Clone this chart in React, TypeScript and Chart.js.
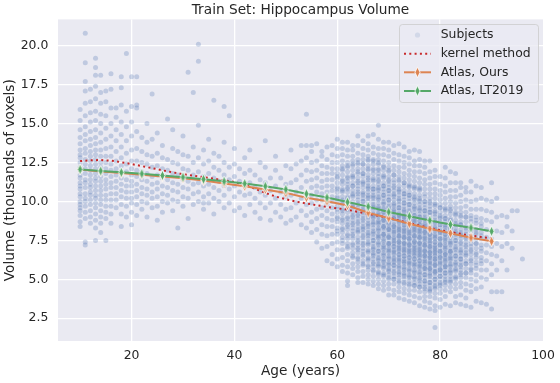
import React, { useEffect, useRef } from "react";
import { Chart, registerables } from "chart.js";
Chart.register(...registerables);

const chartTitle = "Train Set: Hippocampus Volume";
const xLabel = "Age (years)";
const yLabel = "Volume (thousands of voxels)";
const xTicks = [20, 40, 60, 80, 100];
const yTicks = [2.5, 5, 7.5, 10, 12.5, 15, 17.5, 20];
const legendLabels = ["Subjects", "kernel method", "Atlas, Ours", "Atlas, LT2019"];

const atlasAges = [10, 14, 18, 22, 26, 30, 34, 38, 42, 46, 50, 54, 58, 62, 66, 70, 74, 78, 82, 86, 90];
const atlasOurs = [12.05, 11.93, 11.82, 11.72, 11.6, 11.49, 11.34, 11.16, 10.98, 10.77, 10.55, 10.24, 10.02, 9.74, 9.28, 8.93, 8.57, 8.25, 7.96, 7.67, 7.44];
const atlasLT2019 = [12.06, 11.96, 11.87, 11.78, 11.67, 11.56, 11.43, 11.29, 11.15, 10.98, 10.77, 10.49, 10.25, 9.96, 9.67, 9.32, 9.05, 8.78, 8.52, 8.31, 8.08];

const kernelAges = [10, 12, 14, 16, 18, 20, 22, 24, 26, 28, 30, 32, 34, 36, 38, 40, 42, 44, 46, 48, 50, 52, 54, 56, 58, 60, 62, 64, 66, 68, 70, 72, 74, 76, 78, 80, 82, 84, 86, 88, 90];
const kernelValues = [12.59, 12.64, 12.66, 12.62, 12.52, 12.4, 12.27, 12.14, 12.0, 11.87, 11.75, 11.65, 11.56, 11.46, 11.36, 11.25, 11.08, 10.82, 10.55, 10.32, 10.14, 9.99, 9.87, 9.76, 9.65, 9.56, 9.47, 9.33, 9.2, 9.08, 8.95, 8.78, 8.61, 8.45, 8.29, 8.16, 8.04, 7.92, 7.81, 7.72, 7.64];

// Subjects: [age, volumes at that age]
const subjectColumns: [number, number[]][] = [
  [10, [8.4, 8.7, 9.1, 9.4, 9.6, 9.8, 10.0, 10.3, 10.5, 10.8, 11.0, 11.2, 11.5, 11.7, 12.0, 12.2, 12.5, 12.8, 13.0, 13.3, 13.7, 14.1, 14.6, 15.2, 15.9]],
  [11, [7.2, 7.4, 8.9, 9.3, 9.7, 10.0, 10.2, 10.5, 10.9, 11.2, 11.4, 11.8, 12.1, 12.4, 12.7, 13.1, 13.4, 13.9, 14.3, 14.8, 15.5, 16.3, 17.1, 17.7, 18.9, 20.8]],
  [12, [8.6, 9.0, 9.4, 9.8, 10.1, 10.4, 10.6, 10.9, 11.1, 11.4, 11.7, 12.0, 12.3, 12.6, 12.9, 13.2, 13.6, 14.0, 14.5, 15.1, 15.7, 16.4, 17.2]],
  [13, [7.5, 8.3, 8.8, 9.2, 9.6, 9.9, 10.2, 10.4, 10.7, 11.0, 11.3, 11.5, 11.8, 12.1, 12.4, 12.7, 13.0, 13.3, 13.7, 14.1, 14.6, 15.2, 15.8, 16.6, 17.4, 18.1, 18.6, 19.2]],
  [14, [8.0, 8.6, 9.0, 9.4, 9.8, 10.1, 10.4, 10.7, 11.0, 11.3, 11.6, 11.9, 12.2, 12.5, 12.9, 13.3, 13.8, 14.4, 15.0, 15.6, 16.3, 17.0, 18.1]],
  [15, [7.5, 8.9, 9.3, 9.7, 10.1, 10.4, 10.8, 11.1, 11.4, 11.8, 12.1, 12.5, 12.9, 13.4, 14.0, 14.7, 15.5, 16.4, 17.1]],
  [16, [8.6, 9.2, 9.7, 10.1, 10.5, 10.9, 11.2, 11.6, 12.0, 12.4, 12.9, 13.5, 14.2, 15.0, 16.0, 17.2, 18.2]],
  [17, [9.6, 10.1, 10.5, 10.9, 11.3, 11.7, 12.1, 12.6, 13.2, 13.9, 14.6, 15.4, 16.0]],
  [18, [8.4, 9.2, 9.8, 10.3, 10.7, 11.1, 11.5, 11.9, 12.3, 12.8, 13.5, 14.3, 15.1, 16.2, 17.3, 18.0]],
  [19, [9.0, 9.7, 10.2, 10.6, 11.0, 11.4, 11.9, 12.4, 13.1, 13.9, 14.8, 15.8, 19.5]],
  [20, [8.5, 9.3, 9.9, 10.2, 10.6, 11.0, 11.3, 11.7, 12.1, 12.6, 13.3, 14.2, 15.1, 16.1, 18.0]],
  [21, [9.1, 9.8, 10.3, 10.7, 11.1, 11.6, 12.0, 12.6, 13.4, 14.5, 16.0, 16.2, 18.0]],
  [22, [9.5, 10.0, 10.5, 10.9, 11.4, 11.9, 12.5, 13.2, 14.1]],
  [23, [9.0, 9.9, 10.4, 10.8, 11.3, 11.8, 12.4, 13.0, 13.8, 15.0]],
  [24, [9.6, 10.2, 10.6, 11.1, 11.6, 12.2, 12.9, 14.0, 16.9]],
  [25, [8.8, 9.7, 10.3, 10.8, 11.2, 11.7, 12.3, 13.1, 14.4]],
  [26, [9.3, 10.0, 10.5, 11.0, 11.5, 12.1, 12.8, 13.6]],
  [27, [9.9, 10.4, 10.9, 11.4, 12.0, 12.7, 15.3]],
  [28, [9.4, 10.1, 10.7, 11.2, 11.8, 12.5, 13.4, 14.6]],
  [29, [8.3, 10.0, 10.6, 11.1, 11.7, 12.4, 13.2]],
  [30, [9.7, 10.3, 10.9, 11.4, 12.1, 13.0, 14.2]],
  [31, [8.9, 10.2, 10.8, 11.3, 12.0, 12.9, 18.3]],
  [32, [9.8, 10.5, 11.1, 11.7, 12.5, 13.5, 17.0]],
  [33, [10.0, 10.6, 11.2, 11.9, 12.8, 14.9, 19.0, 20.1]],
  [34, [9.5, 9.9, 10.3, 11.0, 11.6, 12.4, 13.3]],
  [35, [9.9, 10.5, 11.1, 11.8, 12.6, 14.0]],
  [36, [9.2, 10.2, 10.9, 11.5, 12.2, 13.1, 16.5]],
  [37, [10.0, 10.7, 11.3, 12.0, 12.9]],
  [38, [9.6, 10.4, 11.0, 11.7, 12.5, 13.8, 16.1]],
  [39, [9.9, 10.8, 11.4, 12.2, 15.5]],
  [40, [9.4, 10.3, 11.0, 11.6, 12.4, 13.4]],
  [41, [9.6, 10.6, 11.3, 12.1]],
  [42, [9.1, 10.4, 11.0, 11.8, 12.8]],
  [43, [9.8, 10.5, 11.2, 12.0, 13.3]],
  [44, [9.3, 10.2, 10.9, 11.7]],
  [45, [8.9, 9.9, 10.6, 11.4, 12.5]],
  [46, [9.6, 10.4, 11.2, 12.2, 13.9]],
  [47, [8.8, 9.9, 10.7, 11.5]],
  [48, [9.3, 10.2, 11.0, 12.0, 12.9]],
  [49, [9.0, 9.8, 10.6, 11.5]],
  [50, [8.6, 9.5, 10.3, 11.1, 12.3]],
  [51, [8.8, 9.6, 10.4, 11.2, 12.1, 13.3]],
  [52, [9.0, 9.9, 10.6, 11.4, 12.4]],
  [53, [8.5, 9.4, 10.2, 10.9, 11.7, 12.6, 13.6]],
  [54, [8.3, 9.1, 9.8, 10.5, 11.3, 12.0, 12.8, 13.6, 15.6]],
  [55, [8.0, 8.7, 9.3, 9.9, 10.4, 10.9, 11.4, 11.9, 12.5, 13.2, 13.6]],
  [56, [7.4, 8.2, 8.9, 9.5, 10.1, 10.6, 11.0, 11.5, 12.0, 12.6, 13.7]],
  [57, [7.0, 7.9, 8.5, 9.1, 9.6, 10.1, 10.5, 10.9, 11.3, 11.8, 12.3, 12.9, 13.2]],
  [58, [6.2, 7.1, 7.8, 8.4, 8.9, 9.4, 9.8, 10.2, 10.6, 11.0, 11.4, 11.8, 12.2, 12.7, 13.5]],
  [59, [6.0, 6.6, 7.3, 7.9, 8.4, 8.8, 9.2, 9.6, 10.0, 10.3, 10.7, 11.0, 11.4, 11.8, 12.1, 12.5, 13.0, 13.6]],
  [60, [5.8, 6.3, 6.9, 7.4, 7.9, 8.3, 8.7, 9.0, 9.3, 9.7, 10.0, 10.3, 10.6, 10.9, 11.2, 11.5, 11.8, 12.1, 12.5, 12.9, 13.4, 14.0]],
  [61, [5.5, 5.9, 6.4, 6.9, 7.3, 7.7, 8.0, 8.3, 8.6, 8.9, 9.2, 9.5, 9.8, 10.0, 10.3, 10.6, 10.8, 11.1, 11.4, 11.7, 12.0, 12.3, 12.6, 13.0, 13.4, 13.8]],
  [62, [4.6, 4.9, 5.4, 5.8, 6.2, 6.6, 7.0, 7.3, 7.6, 7.9, 8.2, 8.5, 8.7, 9.0, 9.3, 9.5, 9.8, 10.1, 10.3, 10.6, 10.8, 11.1, 11.3, 11.6, 11.9, 12.2, 12.5, 12.9, 13.3, 13.8]],
  [63, [5.3, 5.7, 6.0, 6.4, 6.7, 7.0, 7.3, 7.6, 7.8, 8.1, 8.3, 8.6, 8.8, 9.1, 9.3, 9.6, 9.8, 10.0, 10.3, 10.5, 10.7, 11.0, 11.2, 11.5, 11.7, 12.0, 12.3, 12.6, 12.9, 13.3, 13.6]],
  [64, [4.8, 5.1, 5.5, 5.8, 6.1, 6.4, 6.7, 7.0, 7.2, 7.5, 7.7, 8.0, 8.2, 8.4, 8.7, 8.9, 9.1, 9.4, 9.6, 9.8, 10.1, 10.3, 10.5, 10.8, 11.0, 11.3, 11.5, 11.8, 12.1, 12.4, 12.7, 13.1, 13.6, 14.2]],
  [65, [4.8, 5.2, 5.5, 5.9, 6.2, 6.5, 6.8, 7.0, 7.3, 7.5, 7.8, 8.0, 8.2, 8.4, 8.6, 8.9, 9.1, 9.3, 9.5, 9.7, 10.0, 10.2, 10.4, 10.6, 10.9, 11.1, 11.3, 11.6, 11.8, 12.1, 12.4, 12.7, 13.0, 13.4, 13.9]],
  [66, [4.7, 5.0, 5.3, 5.6, 5.9, 6.2, 6.4, 6.7, 6.9, 7.2, 7.4, 7.6, 7.8, 8.0, 8.2, 8.4, 8.6, 8.8, 9.0, 9.2, 9.4, 9.6, 9.8, 10.0, 10.2, 10.4, 10.6, 10.8, 11.0, 11.2, 11.5, 11.7, 12.0, 12.3, 12.6, 12.9, 13.3, 13.7, 14.2]],
  [67, [4.6, 4.9, 5.2, 5.5, 5.8, 6.0, 6.3, 6.5, 6.7, 6.9, 7.1, 7.3, 7.5, 7.7, 7.9, 8.1, 8.3, 8.5, 8.7, 8.9, 9.0, 9.2, 9.4, 9.6, 9.8, 10.0, 10.2, 10.4, 10.6, 10.8, 11.0, 11.3, 11.5, 11.8, 12.1, 12.4, 12.7, 13.1, 13.5, 14.3]],
  [68, [4.4, 4.7, 5.0, 5.3, 5.5, 5.8, 6.0, 6.2, 6.4, 6.6, 6.8, 7.0, 7.2, 7.4, 7.6, 7.8, 7.9, 8.1, 8.3, 8.5, 8.6, 8.8, 9.0, 9.2, 9.3, 9.5, 9.7, 9.9, 10.1, 10.3, 10.5, 10.7, 10.9, 11.1, 11.3, 11.6, 11.8, 12.1, 12.4, 12.7, 13.0, 13.4, 14.0, 14.9]],
  [69, [4.3, 4.6, 4.9, 5.2, 5.4, 5.7, 5.9, 6.1, 6.3, 6.5, 6.7, 6.9, 7.1, 7.2, 7.4, 7.6, 7.8, 7.9, 8.1, 8.3, 8.4, 8.6, 8.8, 8.9, 9.1, 9.3, 9.5, 9.6, 9.8, 10.0, 10.2, 10.4, 10.6, 10.8, 11.0, 11.2, 11.5, 11.7, 12.0, 12.3, 12.6, 13.0, 13.4, 13.8]],
  [70, [4.0, 4.4, 4.7, 5.0, 5.3, 5.5, 5.7, 5.9, 6.1, 6.3, 6.5, 6.7, 6.8, 7.0, 7.2, 7.3, 7.5, 7.7, 7.8, 8.0, 8.2, 8.3, 8.5, 8.7, 8.8, 9.0, 9.2, 9.3, 9.5, 9.7, 9.9, 10.1, 10.3, 10.5, 10.7, 10.9, 11.1, 11.4, 11.6, 11.9, 12.2, 12.5, 12.9, 13.3, 13.8]],
  [71, [4.0, 4.3, 4.7, 5.0, 5.2, 5.4, 5.7, 5.9, 6.1, 6.2, 6.4, 6.6, 6.8, 6.9, 7.1, 7.3, 7.4, 7.6, 7.7, 7.9, 8.1, 8.2, 8.4, 8.5, 8.7, 8.9, 9.0, 9.2, 9.4, 9.5, 9.7, 9.9, 10.1, 10.3, 10.5, 10.7, 10.9, 11.2, 11.4, 11.7, 12.0, 12.3, 12.7, 13.1, 13.6]],
  [72, [3.8, 4.2, 4.5, 4.8, 5.1, 5.3, 5.5, 5.7, 5.9, 6.1, 6.3, 6.4, 6.6, 6.8, 6.9, 7.1, 7.2, 7.4, 7.5, 7.7, 7.8, 8.0, 8.1, 8.3, 8.4, 8.6, 8.8, 8.9, 9.1, 9.2, 9.4, 9.6, 9.8, 10.0, 10.2, 10.4, 10.6, 10.8, 11.0, 11.3, 11.6, 11.9, 12.2, 12.6, 13.0, 13.7]],
  [73, [3.7, 4.1, 4.4, 4.7, 5.0, 5.2, 5.4, 5.6, 5.8, 6.0, 6.2, 6.3, 6.5, 6.7, 6.8, 7.0, 7.1, 7.3, 7.4, 7.6, 7.7, 7.9, 8.0, 8.2, 8.3, 8.5, 8.7, 8.8, 9.0, 9.1, 9.3, 9.5, 9.7, 9.9, 10.1, 10.3, 10.5, 10.7, 11.0, 11.2, 11.5, 11.8, 12.2, 12.5, 12.9, 13.5]],
  [74, [3.6, 4.0, 4.3, 4.6, 4.9, 5.1, 5.3, 5.5, 5.7, 5.9, 6.1, 6.2, 6.4, 6.6, 6.7, 6.9, 7.0, 7.2, 7.3, 7.5, 7.6, 7.8, 7.9, 8.1, 8.2, 8.4, 8.5, 8.7, 8.9, 9.0, 9.2, 9.4, 9.6, 9.8, 10.0, 10.2, 10.4, 10.6, 10.9, 11.1, 11.4, 11.7, 12.0, 12.4, 12.8, 13.2]],
  [75, [3.5, 3.9, 4.3, 4.6, 4.8, 5.0, 5.2, 5.4, 5.6, 5.8, 6.0, 6.1, 6.3, 6.5, 6.6, 6.8, 6.9, 7.1, 7.2, 7.4, 7.5, 7.7, 7.8, 8.0, 8.1, 8.3, 8.4, 8.6, 8.8, 8.9, 9.1, 9.3, 9.5, 9.7, 9.9, 10.1, 10.3, 10.5, 10.8, 11.0, 11.3, 11.6, 11.9, 12.3, 12.6, 13.3]],
  [76, [3.3, 3.8, 4.2, 4.5, 4.7, 4.9, 5.1, 5.3, 5.5, 5.7, 5.9, 6.0, 6.2, 6.4, 6.5, 6.7, 6.8, 7.0, 7.1, 7.3, 7.4, 7.6, 7.7, 7.9, 8.0, 8.2, 8.3, 8.5, 8.7, 8.8, 9.0, 9.2, 9.4, 9.6, 9.8, 10.0, 10.2, 10.4, 10.7, 10.9, 11.2, 11.5, 11.9, 12.3, 12.7, 13.2]],
  [77, [3.2, 3.6, 3.9, 4.2, 4.5, 4.7, 4.9, 5.1, 5.3, 5.5, 5.7, 5.8, 6.0, 6.2, 6.3, 6.5, 6.6, 6.8, 6.9, 7.1, 7.2, 7.4, 7.5, 7.7, 7.8, 8.0, 8.1, 8.3, 8.5, 8.6, 8.8, 9.0, 9.2, 9.4, 9.6, 9.8, 10.0, 10.3, 10.5, 10.8, 11.1, 11.4, 11.8, 12.2, 12.6]],
  [78, [3.1, 3.5, 3.9, 4.2, 4.4, 4.6, 4.8, 5.0, 5.2, 5.4, 5.6, 5.7, 5.9, 6.1, 6.2, 6.4, 6.5, 6.7, 6.8, 7.0, 7.1, 7.3, 7.4, 7.6, 7.7, 7.9, 8.0, 8.2, 8.4, 8.5, 8.7, 8.9, 9.1, 9.3, 9.5, 9.7, 10.0, 10.2, 10.5, 10.8, 11.1, 11.5, 11.9, 12.6]],
  [79, [1.9, 3.0, 3.3, 3.8, 4.1, 4.4, 4.6, 4.8, 5.0, 5.2, 5.4, 5.5, 5.7, 5.9, 6.0, 6.2, 6.3, 6.5, 6.6, 6.8, 6.9, 7.1, 7.2, 7.4, 7.6, 7.7, 7.9, 8.1, 8.2, 8.4, 8.6, 8.8, 9.0, 9.2, 9.4, 9.7, 9.9, 10.2, 10.5, 10.8, 11.2, 11.6, 12.0]],
  [80, [3.2, 3.7, 4.1, 4.4, 4.6, 4.8, 5.0, 5.2, 5.4, 5.6, 5.7, 5.9, 6.1, 6.2, 6.4, 6.5, 6.7, 6.8, 7.0, 7.2, 7.3, 7.5, 7.6, 7.8, 8.0, 8.1, 8.3, 8.5, 8.7, 8.9, 9.1, 9.3, 9.6, 9.8, 10.1, 10.4, 10.7, 11.1, 11.6]],
  [81, [3.4, 3.9, 4.3, 4.6, 4.8, 5.0, 5.2, 5.4, 5.6, 5.8, 5.9, 6.1, 6.3, 6.4, 6.6, 6.7, 6.9, 7.1, 7.2, 7.4, 7.6, 7.7, 7.9, 8.1, 8.3, 8.5, 8.7, 8.9, 9.1, 9.4, 9.6, 9.9, 10.2, 10.6, 11.0, 11.5, 12.2]],
  [82, [3.3, 4.2, 4.5, 4.8, 5.0, 5.2, 5.4, 5.6, 5.8, 6.0, 6.2, 6.3, 6.5, 6.7, 6.8, 7.0, 7.2, 7.4, 7.5, 7.7, 7.9, 8.1, 8.3, 8.5, 8.7, 8.9, 9.2, 9.4, 9.7, 10.0, 10.3, 10.7, 11.2, 11.9]],
  [83, [3.5, 3.9, 4.4, 4.7, 5.0, 5.2, 5.5, 5.7, 5.9, 6.1, 6.3, 6.5, 6.7, 6.9, 7.1, 7.3, 7.5, 7.7, 7.9, 8.1, 8.3, 8.6, 8.8, 9.1, 9.3, 9.6, 9.9, 10.3, 10.7, 11.2, 11.8]],
  [84, [3.4, 4.0, 4.5, 4.8, 5.1, 5.4, 5.6, 5.9, 6.1, 6.3, 6.5, 6.7, 6.9, 7.1, 7.3, 7.6, 7.8, 8.0, 8.2, 8.5, 8.7, 9.0, 9.3, 9.6, 10.0, 10.4, 10.9, 11.2]],
  [85, [3.3, 3.8, 4.3, 4.7, 5.1, 5.4, 5.7, 6.0, 6.2, 6.5, 6.7, 6.9, 7.2, 7.4, 7.6, 7.9, 8.1, 8.4, 8.7, 9.0, 9.3, 9.7, 10.1, 10.6, 10.9]],
  [86, [3.2, 4.2, 4.6, 5.0, 5.4, 5.7, 6.0, 6.3, 6.6, 6.8, 7.1, 7.3, 7.6, 7.8, 8.1, 8.4, 8.7, 9.1, 9.5, 10.0, 10.6, 11.3]],
  [87, [3.6, 4.4, 4.9, 5.3, 5.7, 6.1, 6.4, 6.7, 7.0, 7.3, 7.6, 7.9, 8.2, 8.6, 9.0, 9.5, 10.1, 11.0]],
  [88, [3.5, 4.5, 5.1, 5.6, 6.0, 6.4, 6.8, 7.2, 7.6, 8.0, 8.4, 8.9, 9.5, 10.2, 10.9]],
  [89, [3.4, 5.0, 5.6, 6.2, 6.7, 7.2, 7.7, 8.2, 8.8, 9.4, 10.1]],
  [90, [3.1, 4.2, 5.3, 6.0, 6.6, 7.1, 7.6, 8.1, 8.7, 9.3, 10.0, 11.2]],
  [91, [4.2, 5.6, 6.5, 7.3, 8.1, 9.0, 10.2]],
  [92, [4.2, 6.2, 7.1, 8.0, 9.1]],
  [93, [5.6, 7.3, 8.4, 9.0]],
  [94, [7.0, 8.1, 9.4]],
  [95, [9.4]],
  [96, [6.3]],
];

// Additional subjects in the dense core of the older cohort: [age, volumes]
const subjectColumnsDense: [number, number[]][] = [
  [60, [8.1, 8.9, 9.5, 10.2, 10.8, 11.6]],
  [61, [7.5, 8.2, 8.8, 9.4, 10.1, 10.7, 11.3, 12.1]],
  [62, [7.1, 7.8, 8.4, 8.9, 9.6, 10.2, 10.9, 11.5, 12.3]],
  [63, [6.5, 7.2, 7.9, 8.5, 9.0, 9.7, 10.4, 11.0, 11.6, 12.4]],
  [64, [6.3, 6.9, 7.4, 8.1, 8.6, 9.2, 9.9, 10.6, 11.2, 11.9, 12.5]],
  [65, [6.0, 6.6, 7.2, 7.7, 8.3, 8.8, 9.4, 10.0, 10.5, 11.2, 11.8, 12.4]],
  [66, [5.8, 6.3, 6.8, 7.3, 7.9, 8.5, 9.1, 9.7, 10.3, 10.9, 11.4, 12.1, 12.7]],
  [67, [5.6, 6.1, 6.6, 7.0, 7.5, 8.0, 8.6, 9.1, 9.7, 10.3, 10.8, 11.4, 12.0, 12.6]],
  [68, [5.4, 5.9, 6.3, 6.8, 7.3, 7.7, 8.2, 8.7, 9.1, 9.6, 10.2, 10.8, 11.4, 12.0, 12.5]],
  [69, [5.3, 5.8, 6.2, 6.6, 7.0, 7.5, 7.9, 8.4, 8.8, 9.3, 9.9, 10.4, 11.0, 11.6, 12.2]],
  [70, [5.1, 5.6, 6.0, 6.4, 6.9, 7.3, 7.7, 8.2, 8.6, 9.1, 9.6, 10.1, 10.7, 11.3, 12.0]],
  [71, [5.0, 5.5, 5.9, 6.3, 6.7, 7.1, 7.5, 8.0, 8.4, 8.9, 9.3, 9.8, 10.4, 11.0, 11.7]],
  [72, [4.9, 5.4, 5.8, 6.2, 6.6, 7.0, 7.4, 7.8, 8.2, 8.7, 9.1, 9.6, 10.1, 10.7, 11.4]],
  [73, [4.8, 5.3, 5.7, 6.1, 6.5, 6.9, 7.3, 7.7, 8.1, 8.5, 9.0, 9.4, 9.9, 10.5, 11.2]],
  [74, [4.7, 5.2, 5.6, 6.0, 6.4, 6.8, 7.2, 7.6, 8.0, 8.4, 8.8, 9.3, 9.8, 10.4, 11.0]],
  [75, [4.6, 5.1, 5.5, 5.9, 6.3, 6.7, 7.0, 7.4, 7.8, 8.2, 8.7, 9.1, 9.6, 10.2, 10.9]],
  [76, [4.5, 5.0, 5.4, 5.8, 6.2, 6.6, 6.9, 7.3, 7.7, 8.1, 8.5, 9.0, 9.5, 10.1, 10.8]],
  [77, [4.4, 4.9, 5.3, 5.7, 6.1, 6.5, 6.8, 7.2, 7.6, 8.0, 8.4, 8.9, 9.4, 10.0]],
  [78, [4.3, 4.8, 5.3, 5.7, 6.0, 6.4, 6.7, 7.1, 7.5, 7.9, 8.3, 8.8, 9.3, 9.9]],
  [79, [4.5, 5.0, 5.5, 5.9, 6.3, 6.7, 7.0, 7.4, 7.8, 8.3, 8.7, 9.3, 9.8]],
  [80, [4.7, 5.2, 5.6, 6.0, 6.4, 6.8, 7.2, 7.6, 8.0, 8.5, 9.0, 9.6]],
  [81, [4.9, 5.4, 5.8, 6.2, 6.6, 7.0, 7.5, 7.9, 8.4, 8.9, 9.5]],
  [82, [4.9, 5.5, 5.9, 6.4, 6.8, 7.3, 7.8, 8.3, 8.8, 9.5]],
  [83, [5.1, 5.6, 6.0, 6.5, 7.0, 7.5, 8.0, 8.5, 9.2]],
  [84, [5.3, 5.8, 6.3, 6.8, 7.4, 7.9, 8.5, 9.1]],
  [85, [5.4, 6.0, 6.6, 7.1, 7.7, 8.3, 9.0]],
  [86, [5.6, 6.2, 6.9, 7.5, 8.2, 8.9]],
  [87, [5.9, 6.6, 7.3, 8.0, 8.8]],
  [88, [6.2, 7.0, 7.8, 8.6]],
];

const FONT = "DejaVu Sans";
const TEXT = "#262626";
const BLUE_RGB = "76,114,176";
const DOT_ALPHA = 0.27;
const ORANGE = "#DD8452";
const GREEN = "#55A868";
const RED = "#C8282A";

function makeDiamond(color: string): HTMLCanvasElement {
  const c = document.createElement("canvas");
  c.width = 9;
  c.height = 13;
  const g = c.getContext("2d")!;
  g.beginPath();
  g.moveTo(4.5, 1.2);
  g.lineTo(7.1, 6.5);
  g.lineTo(4.5, 11.8);
  g.lineTo(1.9, 6.5);
  g.closePath();
  g.fillStyle = color;
  g.fill();
  g.strokeStyle = "#ffffff";
  g.lineWidth = 0.9;
  g.stroke();
  return c;
}

export default function App() {
  const ref = useRef<HTMLCanvasElement>(null);

  useEffect(() => {
    document.body.style.margin = "0";
    const canvas = ref.current!;
    const orangeDiamond = makeDiamond(ORANGE);
    const greenDiamond = makeDiamond(GREEN);

    const toPoints = (cols: [number, number[]][]) =>
      cols.flatMap(([age, vols]) => vols.map((v) => ({ x: age, y: v })));
    const subjects = [...toPoints(subjectColumns), ...toPoints(subjectColumnsDense)];
    const kernel = kernelAges.map((a, i) => ({ x: a, y: kernelValues[i] }));
    const ours = atlasAges.map((a, i) => ({ x: a, y: atlasOurs[i] }));
    const lt = atlasAges.map((a, i) => ({ x: a, y: atlasLT2019[i] }));

    const decor = {
      id: "decor",
      beforeDraw(chart: any) {
        const { ctx, chartArea: a } = chart;
        ctx.save();
        ctx.fillStyle = "#ffffff";
        ctx.fillRect(0, 0, chart.width, chart.height);
        ctx.fillStyle = "#EAEAF2";
        ctx.fillRect(a.left, a.top, a.right - a.left, a.bottom - a.top);
        ctx.restore();
      },
      afterDraw(chart: any) {
        const { ctx, chartArea: a } = chart;
        ctx.save();
        ctx.fillStyle = TEXT;
        ctx.font = `13.7px "${FONT}"`;
        ctx.textAlign = "center";
        ctx.textBaseline = "middle";
        ctx.fillText(chartTitle, (a.left + a.right) / 2, 10);

        const bx = 399.5, by = 24.5, bw = 139, bh = 78, r = 3;
        ctx.beginPath();
        ctx.moveTo(bx + r, by);
        ctx.lineTo(bx + bw - r, by);
        ctx.quadraticCurveTo(bx + bw, by, bx + bw, by + r);
        ctx.lineTo(bx + bw, by + bh - r);
        ctx.quadraticCurveTo(bx + bw, by + bh, bx + bw - r, by + bh);
        ctx.lineTo(bx + r, by + bh);
        ctx.quadraticCurveTo(bx, by + bh, bx, by + bh - r);
        ctx.lineTo(bx, by + r);
        ctx.quadraticCurveTo(bx, by, bx + r, by);
        ctx.closePath();
        ctx.fillStyle = "rgba(234,234,242,0.8)";
        ctx.fill();
        ctx.strokeStyle = "rgba(204,204,204,0.8)";
        ctx.lineWidth = 1;
        ctx.stroke();

        const rows = [35, 53.7, 72.3, 91];
        const hx0 = 404, hx1 = 431, hm = 417.5, tx = 440.7;
        ctx.beginPath();
        ctx.arc(hm, rows[0], 2.6, 0, Math.PI * 2);
        ctx.fillStyle = `rgba(${BLUE_RGB},0.15)`;
        ctx.fill();
        ctx.beginPath();
        ctx.setLineDash([2, 3.3]);
        ctx.lineWidth = 2;
        ctx.strokeStyle = RED;
        ctx.moveTo(hx0, rows[1]);
        ctx.lineTo(hx1, rows[1]);
        ctx.stroke();
        ctx.setLineDash([]);
        ctx.beginPath();
        ctx.strokeStyle = ORANGE;
        ctx.moveTo(hx0, rows[2]);
        ctx.lineTo(hx1, rows[2]);
        ctx.stroke();
        ctx.drawImage(orangeDiamond, hm - 4.5, rows[2] - 6.5);
        ctx.beginPath();
        ctx.strokeStyle = GREEN;
        ctx.moveTo(hx0, rows[3]);
        ctx.lineTo(hx1, rows[3]);
        ctx.stroke();
        ctx.drawImage(greenDiamond, hm - 4.5, rows[3] - 6.5);

        ctx.fillStyle = TEXT;
        ctx.font = `12.4px "${FONT}"`;
        ctx.textAlign = "left";
        ctx.textBaseline = "middle";
        legendLabels.forEach((t, i) => ctx.fillText(t, tx, rows[i]));
        ctx.restore();
      },
    };

    const chart = new Chart(canvas, {
      type: "scatter",
      data: {
        datasets: [
          {
            label: legendLabels[3],
            data: lt,
            showLine: true,
            borderColor: GREEN,
            borderWidth: 2,
            pointStyle: greenDiamond as any,
            pointRadius: 4,
            order: 1,
          },
          {
            label: legendLabels[2],
            data: ours,
            showLine: true,
            borderColor: ORANGE,
            borderWidth: 2,
            pointStyle: orangeDiamond as any,
            pointRadius: 4,
            order: 2,
          },
          {
            label: legendLabels[1],
            data: kernel,
            showLine: true,
            borderColor: RED,
            borderWidth: 2,
            borderDash: [2, 3.3],
            borderCapStyle: "butt",
            pointRadius: 0,
            order: 3,
          },
          {
            label: legendLabels[0],
            data: subjects,
            pointBackgroundColor: `rgba(${BLUE_RGB},${DOT_ALPHA})`,
            backgroundColor: `rgba(${BLUE_RGB},${DOT_ALPHA})`,
            borderColor: "rgba(0,0,0,0)",
            pointBorderColor: "rgba(0,0,0,0)",
            borderWidth: 0,
            pointBorderWidth: 0,
            pointRadius: 2.5,
            order: 4,
          },
        ] as any,
      },
      options: {
        responsive: false,
        animation: false,
        events: [],
        devicePixelRatio: 1,
        layout: { padding: { top: 19.4, right: 17, bottom: 0, left: 0 } },
        plugins: {
          legend: { display: false },
          title: { display: false },
          tooltip: { enabled: false },
        },
        scales: {
          x: {
            type: "linear",
            min: 5.7,
            max: 100,
            afterBuildTicks: (axis: any) => {
              axis.ticks = xTicks.map((v) => ({ value: v }));
            },
            afterFit: (axis: any) => {
              axis.height = 42;
              axis.paddingLeft = 0;
              axis.paddingRight = 0;
            },
            border: { display: false },
            grid: {
              color: (c: any) => (c.tick && c.tick.value === 100 ? "rgba(0,0,0,0)" : "#ffffff"),
              lineWidth: 1.3,
              drawTicks: false,
            },
            ticks: {
              color: TEXT,
              font: { family: FONT, size: 12.4 },
              padding: 7.3,
              maxRotation: 0,
              autoSkip: false,
              callback: (v: any) => String(v),
            },
            title: {
              display: true,
              text: xLabel,
              color: TEXT,
              font: { family: FONT, size: 13.7 },
              padding: { top: 0, bottom: 3.1 },
            },
          },
          y: {
            type: "linear",
            min: 1.04,
            max: 21.69,
            afterBuildTicks: (axis: any) => {
              axis.ticks = yTicks.map((v) => ({ value: v }));
            },
            afterFit: (axis: any) => {
              axis.width = 58;
              axis.paddingTop = 0;
              axis.paddingBottom = 0;
            },
            border: { display: false },
            grid: { color: "#ffffff", lineWidth: 1.3, drawTicks: false },
            ticks: {
              color: TEXT,
              font: { family: FONT, size: 12.4 },
              padding: 9.7,
              autoSkip: false,
              callback: (v: any) => Number(v).toFixed(1),
            },
            title: {
              display: true,
              text: yLabel,
              color: TEXT,
              font: { family: FONT, size: 13.7 },
              padding: { top: 2.3, bottom: 0 },
            },
          },
        },
      },
      plugins: [decor],
    });
    return () => chart.destroy();
  }, []);

  return (
    <div style={{ width: 560, height: 383 }}>
      <canvas ref={ref} width={560} height={383} style={{ display: "block" }} />
    </div>
  );
}
